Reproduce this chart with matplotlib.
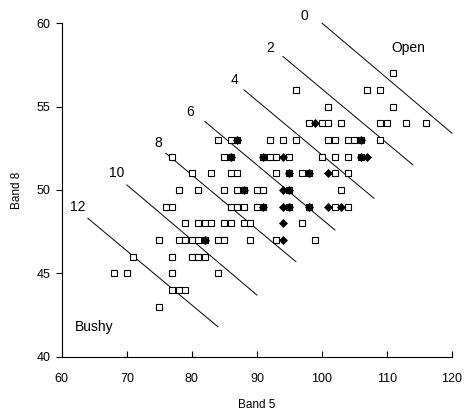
import matplotlib
matplotlib.use("Agg")
import matplotlib.pyplot as plt

plt.rcParams['font.family'] = ['Liberation Sans', 'DejaVu Sans']

# open squares (Band 5, Band 8)
sq_x = [111,
        96, 107, 109,
        101, 111,
        98, 100, 101, 103, 109, 110, 113, 116,
        84, 86, 87, 92, 94, 96, 101, 102, 104, 105, 106, 109,
        77, 85, 86, 91, 92, 93, 95, 100, 102, 104, 106,
        80, 83, 86, 87, 93, 95, 97, 98, 102, 104,
        78, 81, 85, 87, 88, 90, 91, 95, 103,
        76, 77, 86, 87, 88, 90, 91, 95, 98, 102, 104,
        79, 81, 82, 83, 85, 86, 88, 89, 97,
        75, 78, 79, 80, 81, 82, 84, 85, 89, 93, 99,
        71, 77, 80, 81, 82,
        68, 70, 77, 84,
        77, 78, 79,
        75]
sq_y = [57,
        56, 56, 56,
        55, 55,
        54, 54, 54, 54, 54, 54, 54, 54,
        53, 53, 53, 53, 53, 53, 53, 53, 53, 53, 53, 53,
        52, 52, 52, 52, 52, 52, 52, 52, 52, 52, 52,
        51, 51, 51, 51, 51, 51, 51, 51, 51, 51,
        50, 50, 50, 50, 50, 50, 50, 50, 50,
        49, 49, 49, 49, 49, 49, 49, 49, 49, 49, 49,
        48, 48, 48, 48, 48, 48, 48, 48, 48,
        47, 47, 47, 47, 47, 47, 47, 47, 47, 47, 47,
        46, 46, 46, 46, 46,
        45, 45, 45, 45,
        44, 44, 44,
        43]

# filled diamonds
dia_x = [99, 87, 106, 86, 91, 94, 106, 107, 95, 98, 101, 88, 94, 95,
         91, 94, 95, 98, 101, 103, 94, 82, 94]
dia_y = [54, 53, 53, 52, 52, 52, 52, 52, 51, 51, 51, 50, 50, 50,
         49, 49, 49, 49, 49, 49, 48, 47, 47]

# contour lines
line_labels = ['0', '2', '4', '6', '8', '10', '12']
line_x0 = [100, 94, 88, 82, 76, 70, 64]
line_y0 = [60, 58, 56, 54.1, 52.2, 50.3, 48.3]
line_x1 = [120, 114, 108, 102, 96, 90, 84]
line_y1 = [53.4, 51.5, 49.5, 47.6, 45.7, 43.7, 41.8]
label_x = [97.3, 92.1, 86.6, 79.7, 74.8, 68.5, 62.4]
label_y = [60.4, 58.5, 56.6, 54.7, 52.8, 51.0, 49.0]

fig = plt.figure(figsize=(4.65, 4.12), dpi=100)
ax = fig.add_axes([0.133, 0.134, 0.839, 0.810])

for i in range(len(line_labels)):
    ax.plot([line_x0[i], line_x1[i]], [line_y0[i], line_y1[i]],
            color='black', lw=0.7, clip_on=False)
    ax.text(label_x[i], label_y[i], line_labels[i], fontsize=10,
            ha='center', va='center', clip_on=False)

ax.plot(sq_x, sq_y, 's', ms=4.6, mfc='white', mec='black', mew=0.8,
        ls='none', clip_on=False)
ax.plot(dia_x, dia_y, 'D', ms=4.0, mfc='black', mec='black', mew=0.5,
        ls='none', clip_on=False)

ax.text(113.3, 58.5, 'Open', fontsize=10, ha='center', va='center')
ax.text(64.9, 41.8, 'Bushy', fontsize=10, ha='center', va='center')

ax.set_xlim(60, 120)
ax.set_ylim(40, 60)
ax.set_xticks([60, 70, 80, 90, 100, 110, 120])
ax.set_yticks([40, 45, 50, 55, 60])
ax.spines['top'].set_visible(False)
ax.spines['right'].set_visible(False)
ax.spines['left'].set_linewidth(0.8)
ax.spines['bottom'].set_linewidth(0.8)
ax.tick_params(axis='x', direction='in', length=4, width=0.8, labelsize=9, pad=12)
ax.tick_params(axis='y', direction='out', length=4, width=0.8, labelsize=9, pad=4)
ax.set_xlabel('Band 5', fontsize=8.5, labelpad=10)
ax.set_ylabel('Band 8', fontsize=8.5, labelpad=10)

fig.savefig('out.png', dpi=100)
